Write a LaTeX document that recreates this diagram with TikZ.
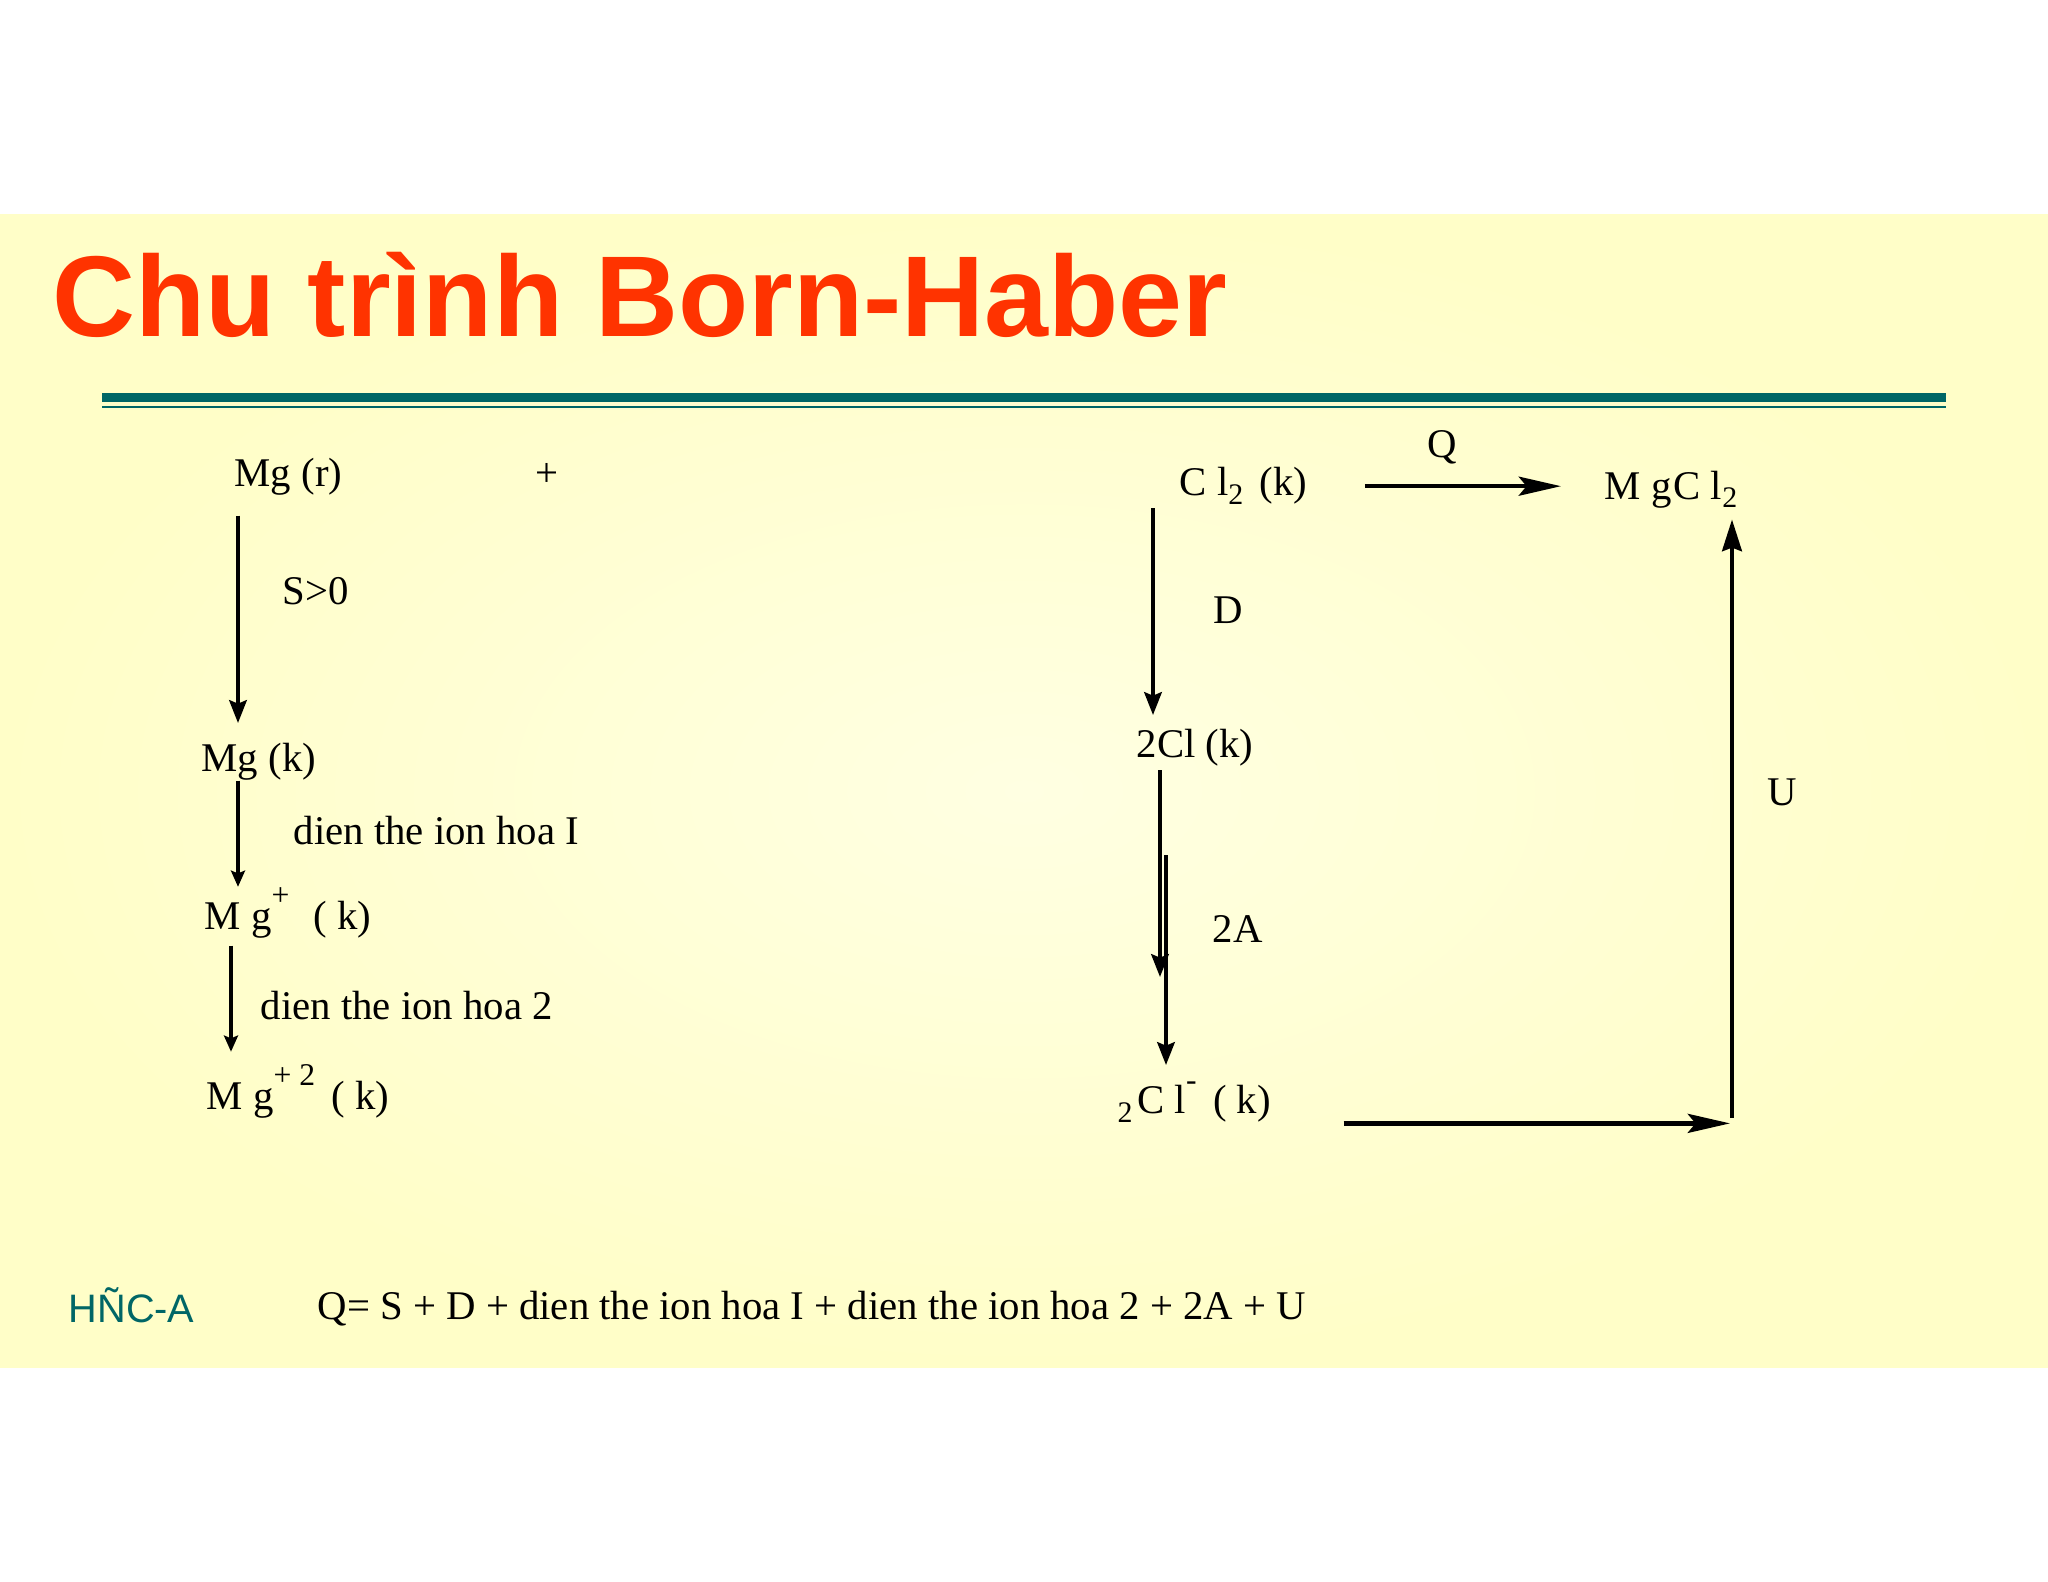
\documentclass[tikz,border=0pt]{standalone}
\usepackage{fontspec}
\setmainfont{Liberation Serif}
\newfontfamily\headfont{Liberation Sans}
\usetikzlibrary{arrows.meta}

\definecolor{titlered}{RGB}{255,51,0}
\definecolor{rule}{RGB}{0,102,102}
\definecolor{bandin}{RGB}{255,255,226}
\definecolor{bandout}{RGB}{255,254,200}

\newcommand\bodysize{\fontsize{11.6}{14}\selectfont}
\newcommand\upr[1]{\raisebox{0.58em}{\fontsize{9}{10}\selectfont #1}}
\newcommand\lowr[1]{\raisebox{-0.2em}{\fontsize{8.5}{10}\selectfont #1}}

\tikzset{
  chem/.style={anchor=base west,inner sep=0pt,font=\bodysize},
  bigarr/.style={line width=1.3pt,-{Stealth[length=12pt,width=5.4pt,inset=2.2pt]}},
  uparr/.style={line width=1.2pt,-{Stealth[length=9pt,width=5.6pt,inset=1pt]}},
  midarr/.style={line width=1.05pt,-{Stealth[length=6.5pt,width=5pt,inset=1pt]}},
  smallarr/.style={line width=0.9pt,-{Stealth[length=4.6pt,width=4pt,inset=0.8pt]}}
}

\begin{document}
\begin{tikzpicture}
\useasboundingbox (0,0) rectangle (20.48,-15.82);
\fill[white] (0,0) rectangle (20.48,-15.82);
\shade[inner color=bandin,outer color=bandout] (0,-2.15) rectangle (20.48,-13.67);
% title and rules
\node[anchor=base west,inner sep=0pt,text=titlered,
      font=\headfont\bfseries\fontsize{32.7}{36}\selectfont] (title) at (0.52,-3.37) {Chu trình Born-Haber};
\draw[rule,line width=2.3pt] (1.02,-3.975) -- (19.46,-3.975);
\draw[rule,line width=0.6pt] (1.02,-4.07) -- (19.46,-4.07);
% columns for the arrows
\coordinate (colA) at (2.38,0);
\coordinate (colB) at (2.31,0);
\coordinate (colD) at (11.53,0);
\coordinate (colE) at (11.60,0);
\coordinate (colF) at (11.66,0);
\coordinate (amid1) at (11.60,-9.77);
\coordinate (amid2) at (11.66,-8.55);
\coordinate (corner) at (17.32,-11.18);
% Mg side
\node[chem] (mgr) at (2.34,-4.87) {Mg (r)};
\node[chem] (plus) at (5.35,-4.87) {+};
\node[chem] (mgk) at (2.01,-7.71) {Mg (k)};
\node[chem] (mgp) at (2.04,-9.29) {M g\upr{+}\ \ \kern0.1em( k)};
\node[chem] (mgpp) at (2.06,-11.09) {M g\upr{+ 2}\ \kern0.15em( k)};
\node[chem] (slab) at (2.82,-6.05) {S>0};
\node[chem] (ilab) at (2.93,-8.45) {dien the ion hoa I};
\node[chem] (iilab) at (2.60,-10.20) {dien the ion hoa 2};
\draw[midarr,shorten <=0.19cm,shorten >=0.19cm] (mgr.south -| colA) -- (mgk.north -| colA);
\draw[smallarr] (mgk.south -| colA) -- (mgp.north -| colA);
\draw[smallarr,shorten <=0.07cm,shorten >=0.12cm] (mgp.south -| colB) -- (mgpp.north -| colB);
% Cl side
\node[chem] (cl2) at (11.79,-4.96) {C l\lowr{2}\kern0.15em\ (k)};
\node[chem] (tcl) at (11.36,-7.57) {2Cl (k)};
\node[chem] (tclm) at (11.17,-11.14) {\lowr{2}\kern0.12em C l\upr{-}\ \kern0.15em( k)};
\node[chem] (dlab) at (12.13,-6.24) {D};
\node[chem] (alab) at (12.12,-9.42) {2A};
\draw[midarr,shorten <=0.03cm,shorten >=0.13cm] (cl2.south -| colD) -- (tcl.north -| colD);
\draw[midarr,shorten <=0.04cm] (tcl.south -| colE) -- (amid1);
\draw[midarr,shorten >=0.16cm] (amid2) -- (tclm.north -| colF);
% product
\node[chem] (mgcl) at (16.04,-4.99) {M g\kern0.05em C l\lowr{2}};
\node[chem] (qlab) at (14.27,-4.58) {Q};
\node[chem] (ulab) at (17.67,-8.06) {U};
\draw[bigarr,shorten <=0.57cm,shorten >=0.43cm] (cl2.east) -- (cl2.east -| mgcl.west);
\draw[bigarr,shorten <=0.72cm,shorten >=0.02cm] (tclm.south east) -- (tclm.south east -| corner);
\draw[uparr,shorten >=0.11cm] (corner) -- (corner |- mgcl.south);
% footer
\node[anchor=base west,inner sep=0pt,text=rule,font=\headfont\fontsize{11.3}{13}\selectfont] (foot) at (0.68,-13.22) {HÑC-A};
\node[chem] (sum) at (3.17,-13.19) {Q= S + D + dien the ion hoa I + dien the ion hoa 2 + 2A + U};
\end{tikzpicture}
\end{document}
